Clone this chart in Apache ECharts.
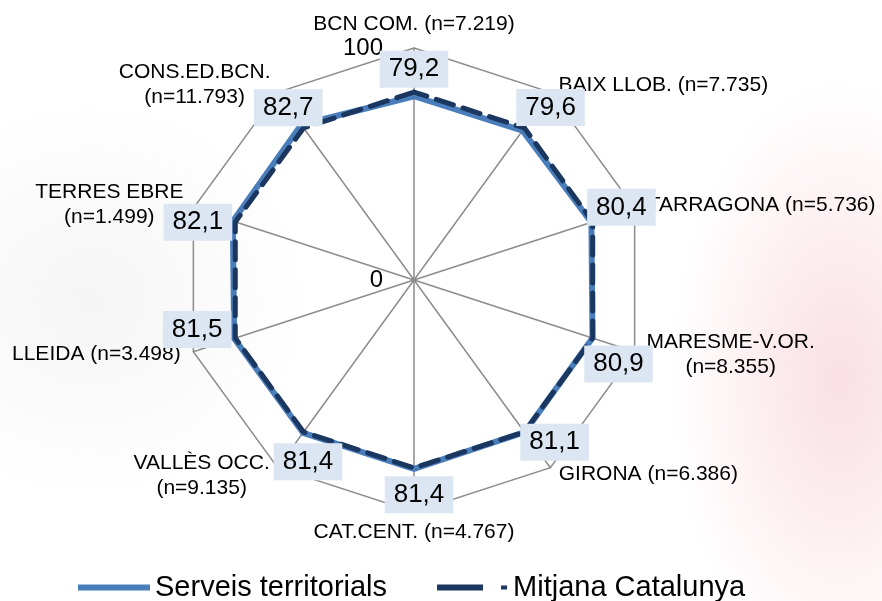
<!DOCTYPE html>
<html>
<head>
<meta charset="utf-8">
<script src="https://cdn.jsdelivr.net/npm/echarts@6/dist/echarts.min.js"></script>
<style>
  html, body { margin: 0; padding: 0; }
  body {
    width: 882px; height: 601px;
    background:
      radial-gradient(ellipse 170px 300px at 840px 380px, rgba(238,150,165,0.30), rgba(255,255,255,0) 100%),
      radial-gradient(ellipse 220px 200px at 90px 300px, rgba(200,200,200,0.18), rgba(255,255,255,0) 100%),
      #fff;
  }
  #chart { width: 882px; height: 601px; }
</style>
</head>
<body>
<div id="chart"></div>
<script>
// categories clockwise from the top, as in the picture
const categories = [
  "BCN COM.", "BAIX LLOB.", "TARRAGONA", "MARESME-V.OR.", "GIRONA",
  "CAT.CENT.", "VALLÈS OCC.", "LLEIDA", "TERRES EBRE", "CONS.ED.BCN."
];
const sampleSizes = ["7.219", "7.735", "5.736", "8.355", "6.386", "4.767", "9.135", "3.498", "1.499", "11.793"];
const twoLineNames = ["MARESME-V.OR.", "VALLÈS OCC.", "TERRES EBRE", "CONS.ED.BCN."];

const serveisTerritorials = [79.2, 79.6, 80.4, 80.9, 81.1, 81.4, 81.4, 81.5, 82.1, 82.7];
const mitjanaCatalunya = [81.0, 81.0, 81.0, 81.0, 81.0, 81.0, 81.0, 81.0, 81.0, 81.0];
const axisMin = 0;
const axisMax = 100;

// label box offsets (px) from each point, same order as categories
const valueOffsets = [[0, -27], [28, -23], [30, -15], [26, 26], [30, 10], [5, 26], [5, 29], [-37, -9], [-35, 1], [-13, -17]];
const nameOffsets = [[0, -24], [113, -7], [127, -3], [96, 3], [98, 7], [0, 20], [-76, 8], [-97, 3], [-84, -4], [-83, -8]];

const FONT = "'Liberation Sans', Arial, sans-serif";
const center = [414, 280];
const radius = 232;

// radar runs counter-clockwise, so feed it the categories in reverse order
const radarOrder = categories.map((_, i) => (categories.length - i) % categories.length);
const pick = arr => radarOrder.map(i => arr[i]);

const nameText = (c, i) =>
  c + (twoLineNames.includes(c) ? "\n" : " ") + "(n=" + sampleSizes[i] + ")";

const chart = echarts.init(document.getElementById("chart"));

chart.setOption({
  backgroundColor: "transparent",
  textStyle: { fontFamily: FONT },
  legend: {
    top: 568,
    left: 73,
    itemWidth: 72,
    itemHeight: 6,
    itemGap: 50,
    textStyle: { fontSize: 29, color: "#000", fontFamily: FONT },
    data: [
      { name: "Serveis territorials", icon: "path://M0,0H72V6H0Z" },
      { name: "Mitjana Catalunya", icon: "path://M0,0H46V6H0Z M64,1H70V5H64Z" },
    ],
  },
  radar: {
    center,
    radius,
    startAngle: 90,
    shape: "polygon",
    splitNumber: 1,
    indicator: pick(categories).map(name => ({ name, min: axisMin, max: axisMax })),
    axisName: { show: false },
    splitArea: { show: false },
    splitLine: { lineStyle: { color: "#8c8c8c", width: 1.5 } },
    axisLine: { lineStyle: { color: "#8c8c8c", width: 1.5 } },
  },
  polar: { center, radius },
  angleAxis: {
    type: "category",
    data: categories,
    startAngle: 90,
    boundaryGap: false,
    axisLine: { show: false },
    axisTick: { show: false },
    axisLabel: { show: false },
    splitLine: { show: false },
  },
  radiusAxis: {
    min: axisMin,
    max: axisMax,
    interval: axisMax - axisMin,
    axisLine: { show: false },
    axisTick: { show: false },
    splitLine: { show: false },
    axisLabel: { fontSize: 24, color: "#000", fontFamily: FONT, margin: 31 },
    z: 5,
  },
  series: [
    {
      name: "Serveis territorials",
      type: "radar",
      symbol: "none",
      z: 2,
      itemStyle: { color: "#4a7ebb" },
      lineStyle: { color: "#4a7ebb", width: 6 },
      data: [{ value: pick(serveisTerritorials), name: "Serveis territorials" }],
    },
    {
      name: "Mitjana Catalunya",
      type: "radar",
      symbol: "none",
      z: 3,
      itemStyle: { color: "#1b365f" },
      lineStyle: { color: "#1b365f", width: 5, type: [18, 10], cap: "round" },
      data: [{ value: pick(mitjanaCatalunya), name: "Mitjana Catalunya" }],
    },
    {
      // value boxes
      type: "scatter",
      coordinateSystem: "polar",
      symbolSize: 0,
      silent: true,
      z: 10,
      itemStyle: { opacity: 1 },
      data: serveisTerritorials.map((v, i) => ({
        value: [v, i],
        label: {
          show: true,
          position: "inside",
          offset: valueOffsets[i],
          formatter: v.toFixed(1).replace(".", ","),
          fontSize: 26,
          color: "#000",
          fontFamily: FONT,
          backgroundColor: "#dce6f2",
          padding: [6, 9, 5, 9],
        },
      })),
    },
    {
      // category names at the outer ring
      type: "scatter",
      coordinateSystem: "polar",
      symbolSize: 0,
      silent: true,
      z: 9,
      itemStyle: { opacity: 1 },
      data: categories.map((c, i) => ({
        value: [axisMax, i],
        label: {
          show: true,
          position: "inside",
          offset: nameOffsets[i],
          formatter: nameText(c, i),
          fontSize: 21,
          lineHeight: 25,
          color: "#000",
          fontFamily: FONT,
          align: "center",
        },
      })),
    },
  ],
});
</script>
</body>
</html>
